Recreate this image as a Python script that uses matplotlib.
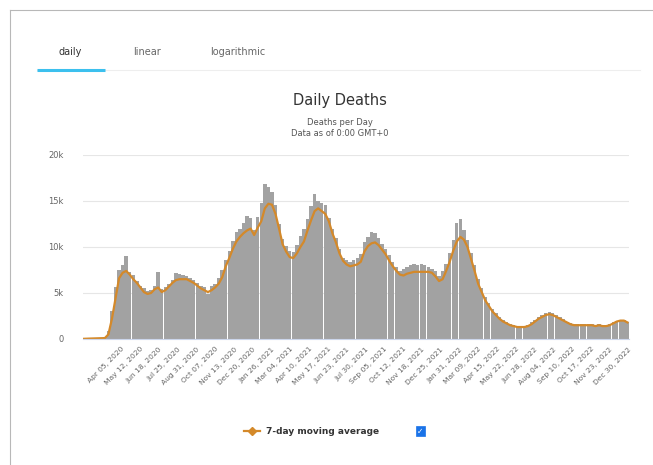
import numpy as np
import pandas as pd
import matplotlib
matplotlib.use('Agg')
import matplotlib.pyplot as plt
from matplotlib.lines import Line2D
from matplotlib.patches import Rectangle

# weekly samples starting 2020-01-22 (deaths, thousands)
start = np.datetime64('2020-01-22')
avg_k = [0.02, 0.04, 0.05, 0.06, 0.07, 0.07, 0.1, 0.5, 2.2, 4.4,
         6.6, 7.2, 7.4, 7.0, 6.5, 6.1, 5.6, 5.1, 4.9, 5.0,
         5.4, 5.6, 5.1, 5.3, 5.7, 6.1, 6.4, 6.5, 6.5, 6.5,
         6.3, 6.1, 5.8, 5.5, 5.3, 5.1, 5.3, 5.6, 6.0, 6.7,
         7.9, 8.8, 9.8, 10.6, 11.1, 11.5, 11.8, 12.0, 11.3, 12.1,
         12.8, 14.2, 14.7, 14.6, 13.6, 12.0, 10.3, 9.5, 8.9, 8.8,
         9.3, 10.0, 10.6, 11.8, 12.9, 13.9, 14.2, 13.9, 13.6, 12.8,
         11.5, 10.5, 9.3, 8.5, 8.1, 7.9, 8.0, 8.1, 8.4, 9.5,
         10.1, 10.4, 10.5, 10.2, 9.7, 9.2, 8.5, 7.9, 7.4, 7.0,
         6.9, 7.1, 7.2, 7.3, 7.3, 7.3, 7.3, 7.3, 7.2, 6.8,
         6.3, 6.5, 7.4, 8.4, 9.6, 10.6, 11.1, 10.8, 10.0, 8.7,
         7.4, 6.0, 5.1, 4.2, 3.6, 3.0, 2.6, 2.2, 1.9, 1.7,
         1.5, 1.4, 1.3, 1.3, 1.3, 1.4, 1.6, 1.9, 2.2, 2.4,
         2.6, 2.7, 2.6, 2.4, 2.2, 2.0, 1.8, 1.6, 1.5, 1.5,
         1.5, 1.5, 1.5, 1.5, 1.4, 1.5, 1.4, 1.4, 1.5, 1.7,
         1.9, 2.0, 2.0, 1.8]
daily_k = [0.02, 0.05, 0.06, 0.08, 0.07, 0.08, 0.2, 0.9, 3.0, 5.6,
           7.5, 8.0, 9.0, 7.3, 7.0, 6.3, 5.8, 5.5, 5.2, 5.3,
           5.8, 7.3, 5.4, 5.6, 6.0, 6.4, 7.2, 7.1, 7.0, 6.8,
           6.6, 6.4, 6.1, 5.8, 5.6, 4.9, 5.8, 6.0, 6.6, 7.5,
           8.6, 9.6, 10.7, 11.6, 12.0, 12.6, 13.4, 13.2, 11.8, 13.3,
           14.8, 16.8, 16.5, 16.0, 14.6, 12.5, 10.9, 10.1, 9.6, 9.5,
           10.2, 11.2, 12.0, 13.0, 14.5, 15.8, 15.0, 14.8, 14.6, 13.2,
           12.0, 11.0, 9.8, 8.8, 8.6, 8.4, 8.6, 8.8, 9.2, 10.5,
           11.1, 11.6, 11.5, 11.0, 10.3, 9.8, 9.1, 8.4, 7.8, 7.4,
           7.6, 7.8, 8.0, 8.1, 8.0, 8.1, 8.0, 7.8, 7.6, 7.4,
           6.8, 7.4, 8.2, 9.4, 10.8, 12.6, 13.0, 11.8, 10.8, 9.4,
           8.0, 6.5, 5.5, 4.6, 3.9, 3.3, 2.8, 2.4, 2.1, 1.8,
           1.6, 1.5, 1.4, 1.4, 1.4, 1.5, 1.8, 2.1, 2.4, 2.6,
           2.8, 2.9, 2.8, 2.6, 2.4, 2.2, 1.9, 1.7, 1.6, 1.6,
           1.6, 1.6, 1.6, 1.6, 1.5, 1.6, 1.5, 1.5, 1.6, 1.8,
           2.0, 2.1, 2.1, 1.9]
tick_labels = ['Apr 05, 2020', 'May 12, 2020', 'Jun 18, 2020', 'Jul 25, 2020',
               'Aug 31, 2020', 'Oct 07, 2020', 'Nov 13, 2020', 'Dec 20, 2020',
               'Jan 26, 2021', 'Mar 04, 2021', 'Apr 10, 2021', 'May 17, 2021',
               'Jun 23, 2021', 'Jul 30, 2021', 'Sep 05, 2021', 'Oct 12, 2021',
               'Nov 18, 2021', 'Dec 25, 2021', 'Jan 31, 2022', 'Mar 09, 2022',
               'Apr 15, 2022', 'May 22, 2022', 'Jun 28, 2022', 'Aug 04, 2022',
               'Sep 10, 2022', 'Oct 17, 2022', 'Nov 23, 2022', 'Dec 30, 2022']
y_ticks = [0, 5000, 10000, 15000, 20000]
y_tick_labels = ['0', '5k', '10k', '15k', '20k']

W, H = 653, 465
fig = plt.figure(figsize=(W / 100, H / 100), dpi=100)
fig.patch.set_facecolor('white')

dates = pd.to_datetime(start + np.arange(len(avg_k)) * np.timedelta64(7, 'D'))
avg = np.array(avg_k) * 1000
daily = np.array(daily_k) * 1000

ax = fig.add_axes([83 / W, 1 - 339 / H, 546 / W, 184 / H])
ax.bar(dates, daily, width=6.6, color='#a2a2a2', edgecolor='none', align='center')
ax.plot(dates, avg, color='#d4892a', lw=1.6, solid_joinstyle='round')

ax.set_xlim(pd.Timestamp('2020-01-21'), pd.Timestamp('2022-12-31'))
ax.set_ylim(0, 20000)
ax.set_yticks(y_ticks)
ax.set_yticklabels(y_tick_labels, fontsize=6, color='#666666')
ax.set_xticks(pd.to_datetime(tick_labels, format='%b %d, %Y'))
ax.set_xticklabels(tick_labels, rotation=45, ha='right', va='top',
                   rotation_mode='anchor', fontsize=5.4, color='#666666')
ax.tick_params(axis='y', length=0, pad=14)
ax.tick_params(axis='x', length=0, pad=5)
ax.grid(axis='y', color='#e6e6e6', lw=0.8)
ax.set_axisbelow(True)
for s in ['top', 'right', 'left']:
    ax.spines[s].set_visible(False)
ax.spines['bottom'].set_color('#ccd6eb')
ax.spines['bottom'].set_linewidth(0.8)

# outer border
fig.add_artist(Line2D([10 / W, 1], [1 - 10 / H, 1 - 10 / H], color='#b8b8b8', lw=0.8))
fig.add_artist(Line2D([10 / W, 10 / W], [0, 1 - 10 / H], color='#b8b8b8', lw=0.8))

# tabs
fig.text(70 / W, 1 - 52 / H, 'daily', ha='center', va='center', fontsize=7, color='#333333')
fig.text(147 / W, 1 - 52 / H, 'linear', ha='center', va='center', fontsize=7, color='#666666')
fig.text(238 / W, 1 - 52 / H, 'logarithmic', ha='center', va='center', fontsize=7, color='#666666')
fig.add_artist(Line2D([37 / W, 640 / W], [1 - 70 / H, 1 - 70 / H], color='#eeeeee', lw=0.8))
fig.add_artist(Line2D([37 / W, 105 / W], [1 - 70 / H, 1 - 70 / H], color='#3cc0ee', lw=2.2,
                      solid_capstyle='butt'))

# titles
fig.text(340 / W, 1 - 101 / H, 'Daily Deaths', ha='center', va='center', fontsize=10.5, color='#333333')
fig.text(340 / W, 1 - 122 / H, 'Deaths per Day', ha='center', va='center', fontsize=6, color='#555555')
fig.text(340 / W, 1 - 134 / H, 'Data as of 0:00 GMT+0', ha='center', va='center', fontsize=6, color='#555555')

# legend
ly = 1 - 431 / H
fig.add_artist(Line2D([244 / W, 260 / W], [ly, ly], color='#d4892a', lw=1.6))
fig.add_artist(Line2D([252 / W], [ly], marker='D', markersize=4, color='#d4892a', lw=0))
fig.text(266 / W, ly, '7-day moving average', ha='left', va='center', fontsize=6.5,
         color='#333333', fontweight='bold')
fig.add_artist(Rectangle((416 / W, 1 - 436 / H), 9 / W, 10 / H, facecolor='#1a73e8',
                         edgecolor='#1a73e8', lw=0.5))
fig.text(420.5 / W, 1 - 431 / H, '✓', ha='center', va='center', fontsize=5.5, color='white')

fig.savefig('out.png', dpi=100)
